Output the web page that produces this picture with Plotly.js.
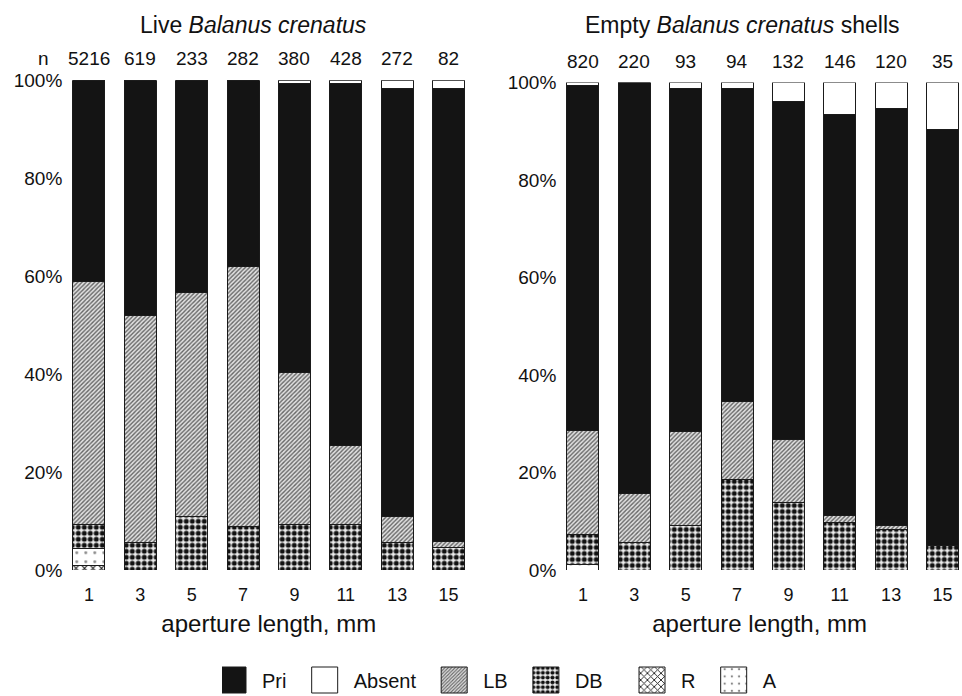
<!DOCTYPE html>
<html>
<head>
<meta charset="utf-8">
<script src="https://cdn.plot.ly/plotly-3.0.1.min.js"></script>
<style>html,body{margin:0;padding:0;background:#fff;}#chart{width:962px;height:696px;}</style>
</head>
<body>
<div id="chart"></div>
<script>
// ---- data ----
const sizes = ['1','3','5','7','9','11','13','15'];
const liveN  = ['5216','619','233','282','380','428','272','82'];
const emptyN = ['820','220','93','94','132','146','120','35'];

// Live Balanus crenatus (% of individuals), stacked bottom -> top: R, A, DB, LB, Pri, Absent
const liveR      = [0.9, 0,    0,    0,    0,    0,    0,    0];
const liveA      = [3.5, 0,    0,    0,    0,    0,    0,    0];
const liveDB     = [4.9, 5.6,  11.0, 8.8,  9.3,  9.3,  5.6,  4.6];
const liveLB     = [49.7,46.4, 45.6, 53.2, 31.1, 16.1, 5.3,  1.3];
const livePri    = [41.0,48.0, 43.4, 38.0, 59.0, 74.0, 87.4, 92.5];
const liveAbsent = [0,   0,    0,    0,    0.6,  0.6,  1.7,  1.6];

// Empty Balanus crenatus shells
const emptyR      = [0,    0,    0,    0,    0,    0,    0,    0];
const emptyA      = [1.2,  0,    0,    0,    0,    0,    0,    0];
const emptyDB     = [6.1,  5.7,  9.1,  18.5, 13.9, 9.8,  8.4,  5.0];
const emptyLB     = [21.4, 9.9,  19.3, 16.0, 12.9, 1.3,  0.7,  0];
const emptyPri    = [70.7, 84.4, 70.4, 64.3, 69.4, 82.4, 85.5, 85.3];
const emptyAbsent = [0.6,  0,    1.2,  1.2,  3.8,  6.5,  5.4,  9.7];

const yTickVals = [0, 20, 40, 60, 80, 100];
const yTickText = ['0%', '20%', '40%', '60%', '80%', '100%'];

// ---- styles ----
const FONT = 'Liberation Sans, Arial, Helvetica, sans-serif';
const edge = {color: '#1a1a1a', width: 1};
const styles = {
  Pri:    {color: '#141414', line: edge},
  Absent: {color: '#ffffff', line: edge},
  LB:     {color: '#bdbdbd', line: edge, pattern: {shape: '/', fgcolor: '#666666', bgcolor: '#e2e2e2', size: 3, solidity: 0.45}},
  DB:     {color: '#555555', line: edge, pattern: {shape: '.', fgcolor: '#111111', bgcolor: '#eeeeee', size: 6, solidity: 0.55}},
  R:      {color: '#999999', line: edge, pattern: {shape: 'x', fgcolor: '#222222', bgcolor: '#ffffff', size: 6, solidity: 0.35}},
  A:      {color: '#ffffff', line: edge, pattern: {shape: '.', fgcolor: '#888888', bgcolor: '#ffffff', size: 9, solidity: 0.08}}
};
const rank = {Pri: 1, Absent: 2, LB: 3, DB: 4, R: 5, A: 6};
const pads = {Pri: 4, Absent: 4, LB: 4, DB: 6, R: 4, A: 0};

function trace(name, vals, xa, ya, show) {
  return {
    type: 'bar', name: name + '\u00a0'.repeat(pads[name]), x: sizes, y: vals, xaxis: xa, yaxis: ya,
    marker: styles[name], legendgroup: name, showlegend: show, legendrank: rank[name],
    hoverinfo: 'x+y+name'
  };
}

const data = [
  trace('R', liveR, 'x', 'y', true),
  trace('A', liveA, 'x', 'y', true),
  trace('DB', liveDB, 'x', 'y', true),
  trace('LB', liveLB, 'x', 'y', true),
  trace('Pri', livePri, 'x', 'y', true),
  trace('Absent', liveAbsent, 'x', 'y', true),
  trace('R', emptyR, 'x2', 'y2', false),
  trace('A', emptyA, 'x2', 'y2', false),
  trace('DB', emptyDB, 'x2', 'y2', false),
  trace('LB', emptyLB, 'x2', 'y2', false),
  trace('Pri', emptyPri, 'x2', 'y2', false),
  trace('Absent', emptyAbsent, 'x2', 'y2', false)
];

const xCommon = {
  type: 'category', showgrid: false, zeroline: false, showline: false, ticks: '',
  tickfont: {family: FONT, size: 18, color: '#111'}, ticklabelstandoff: 12,
  title: {text: 'aperture length, mm', font: {family: FONT, size: 24, color: '#111'}, standoff: 11}
};
const yCommon = {
  range: [0, 100], showgrid: false, zeroline: false, showline: false, ticks: '',
  tickvals: yTickVals, ticktext: yTickText,
  tickfont: {family: FONT, size: 19, color: '#111'}
};

const annotations = [];
sizes.forEach((s, i) => {
  annotations.push({xref: 'x', yref: 'y', x: i, y: 100, text: liveN[i], showarrow: false,
    yanchor: 'middle', yshift: 22, font: {family: FONT, size: 19, color: '#111'}});
  annotations.push({xref: 'x2', yref: 'y2', x: i, y: 100, text: emptyN[i], showarrow: false,
    yanchor: 'middle', yshift: 21, font: {family: FONT, size: 19, color: '#111'}});
});
annotations.push({xref: 'paper', yref: 'paper', x: 43/962, y: (696-58.5)/696, text: 'n', showarrow: false,
  xanchor: 'center', yanchor: 'middle', font: {family: FONT, size: 19, color: '#111'}});
annotations.push({xref: 'paper', yref: 'paper', x: 253/962, y: (696-25)/696, text: 'Live <i>Balanus crenatus</i>',
  showarrow: false, xanchor: 'center', yanchor: 'middle', font: {family: FONT, size: 23, color: '#111'}});
annotations.push({xref: 'paper', yref: 'paper', x: 742/962, y: (696-25)/696, text: 'Empty <i>Balanus crenatus</i> shells',
  showarrow: false, xanchor: 'center', yanchor: 'middle', font: {family: FONT, size: 23, color: '#111'}});

const layout = {
  width: 962, height: 696,
  margin: {l: 0, r: 0, t: 0, b: 0, autoexpand: false},
  paper_bgcolor: '#ffffff', plot_bgcolor: '#ffffff',
  barmode: 'stack', bargap: 0.377,
  font: {family: FONT, color: '#111'},
  xaxis: Object.assign({}, xCommon, {domain: [63.3/962, 474.2/962], range: [-0.5, 7.5], anchor: 'y'}),
  xaxis2: Object.assign({}, xCommon, {domain: [557.3/962, 1], range: [-0.5, 7.38], anchor: 'y2'}),
  yaxis: Object.assign({}, yCommon, {domain: [126/696, 615.7/696], anchor: 'x'}),
  yaxis2: Object.assign({}, yCommon, {domain: [126/696, 613.5/696], anchor: 'x2'}),
  legend: {orientation: 'h', x: 222/962, xanchor: 'left', y: 16/696, yanchor: 'middle',
    traceorder: 'normal', font: {family: FONT, size: 20, color: '#111'}, bgcolor: 'rgba(0,0,0,0)'},
  annotations: annotations,
  showlegend: true
};

Plotly.newPlot('chart', data, layout, {displayModeBar: false, staticPlot: true}).then(function () {
  document.querySelectorAll('.legend .legendpoints path').forEach(function (p) {
    p.setAttribute('d', 'M4,13H-22V-13H4Z');
  });
});
</script>
</body>
</html>
